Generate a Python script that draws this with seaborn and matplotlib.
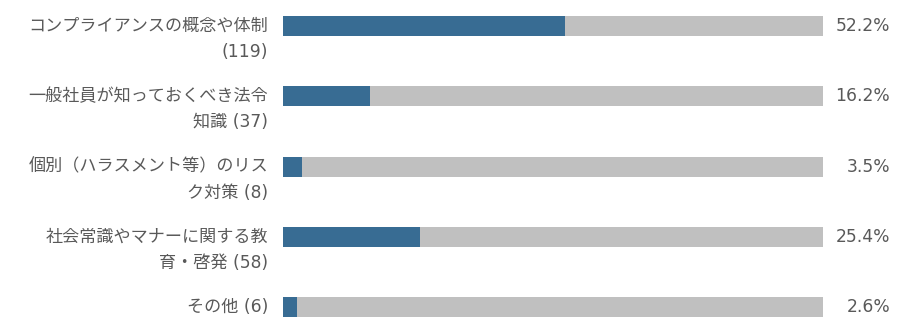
import matplotlib
matplotlib.use("Agg")
import matplotlib.pyplot as plt
import matplotlib.transforms as mtransforms
import seaborn as sns
import pandas as pd

categories_line1 = ["コンプライアンスの概念や体制", "一般社員が知っておくべき法令", "個別（ハラスメント等）のリス",
                    "社会常識やマナーに関する教", "その他 (6)"]
categories_line2 = ["(119)", "知識 (37)", "ク対策 (8)", "育・啓発 (58)", ""]
percent_values = [52.2, 16.2, 3.5, 25.4, 2.6]
percent_labels = ["52.2%", "16.2%", "3.5%", "25.4%", "2.6%"]
full_scale = [100, 100, 100, 100, 100]

sns.set_theme(style="white")
plt.rcParams['font.family'] = ['DejaVu Sans', 'Noto Sans CJK JP']

df = pd.DataFrame({
    "cat": [str(i) for i in range(len(percent_values))],
    "value": percent_values,
    "full": full_scale,
})

W, H = 921, 334
fig = plt.figure(figsize=(W / 100, H / 100), dpi=100)
ax = fig.add_axes([283 / W, 0, (823 - 283) / W, 1])

bar_h = 20 / 70.25
sns.barplot(data=df, y="cat", x="full", color="#C0C0C0", width=bar_h, ax=ax,
            saturation=1, orient="h", linewidth=0, edgecolor="none")
sns.barplot(data=df, y="cat", x="value", color="#386C93", width=bar_h, ax=ax,
            saturation=1, orient="h", linewidth=0, edgecolor="none")

ax.set_xlim(0, 100)
ax.set_ylim((334 - 26) / 70.25, -26 / 70.25)
ax.axis("off")

txt_color = "#595959"
fs = 12.3
trans_lbl = mtransforms.blended_transform_factory(fig.transFigure, ax.transData)
for i in range(len(percent_values)):
    ax.text(268 / W, i, categories_line1[i], transform=trans_lbl, ha="right", va="center",
            fontsize=fs, color=txt_color)
    if categories_line2[i]:
        off = mtransforms.offset_copy(trans_lbl, fig=fig, x=0, y=-26, units="dots")
        ax.text(268 / W, i, categories_line2[i], transform=off, ha="right", va="center",
                fontsize=fs, color=txt_color)
    ax.text(890 / W, i, percent_labels[i], transform=trans_lbl, ha="right", va="center",
            fontsize=fs, color=txt_color)

fig.savefig("out.png", dpi=100)
